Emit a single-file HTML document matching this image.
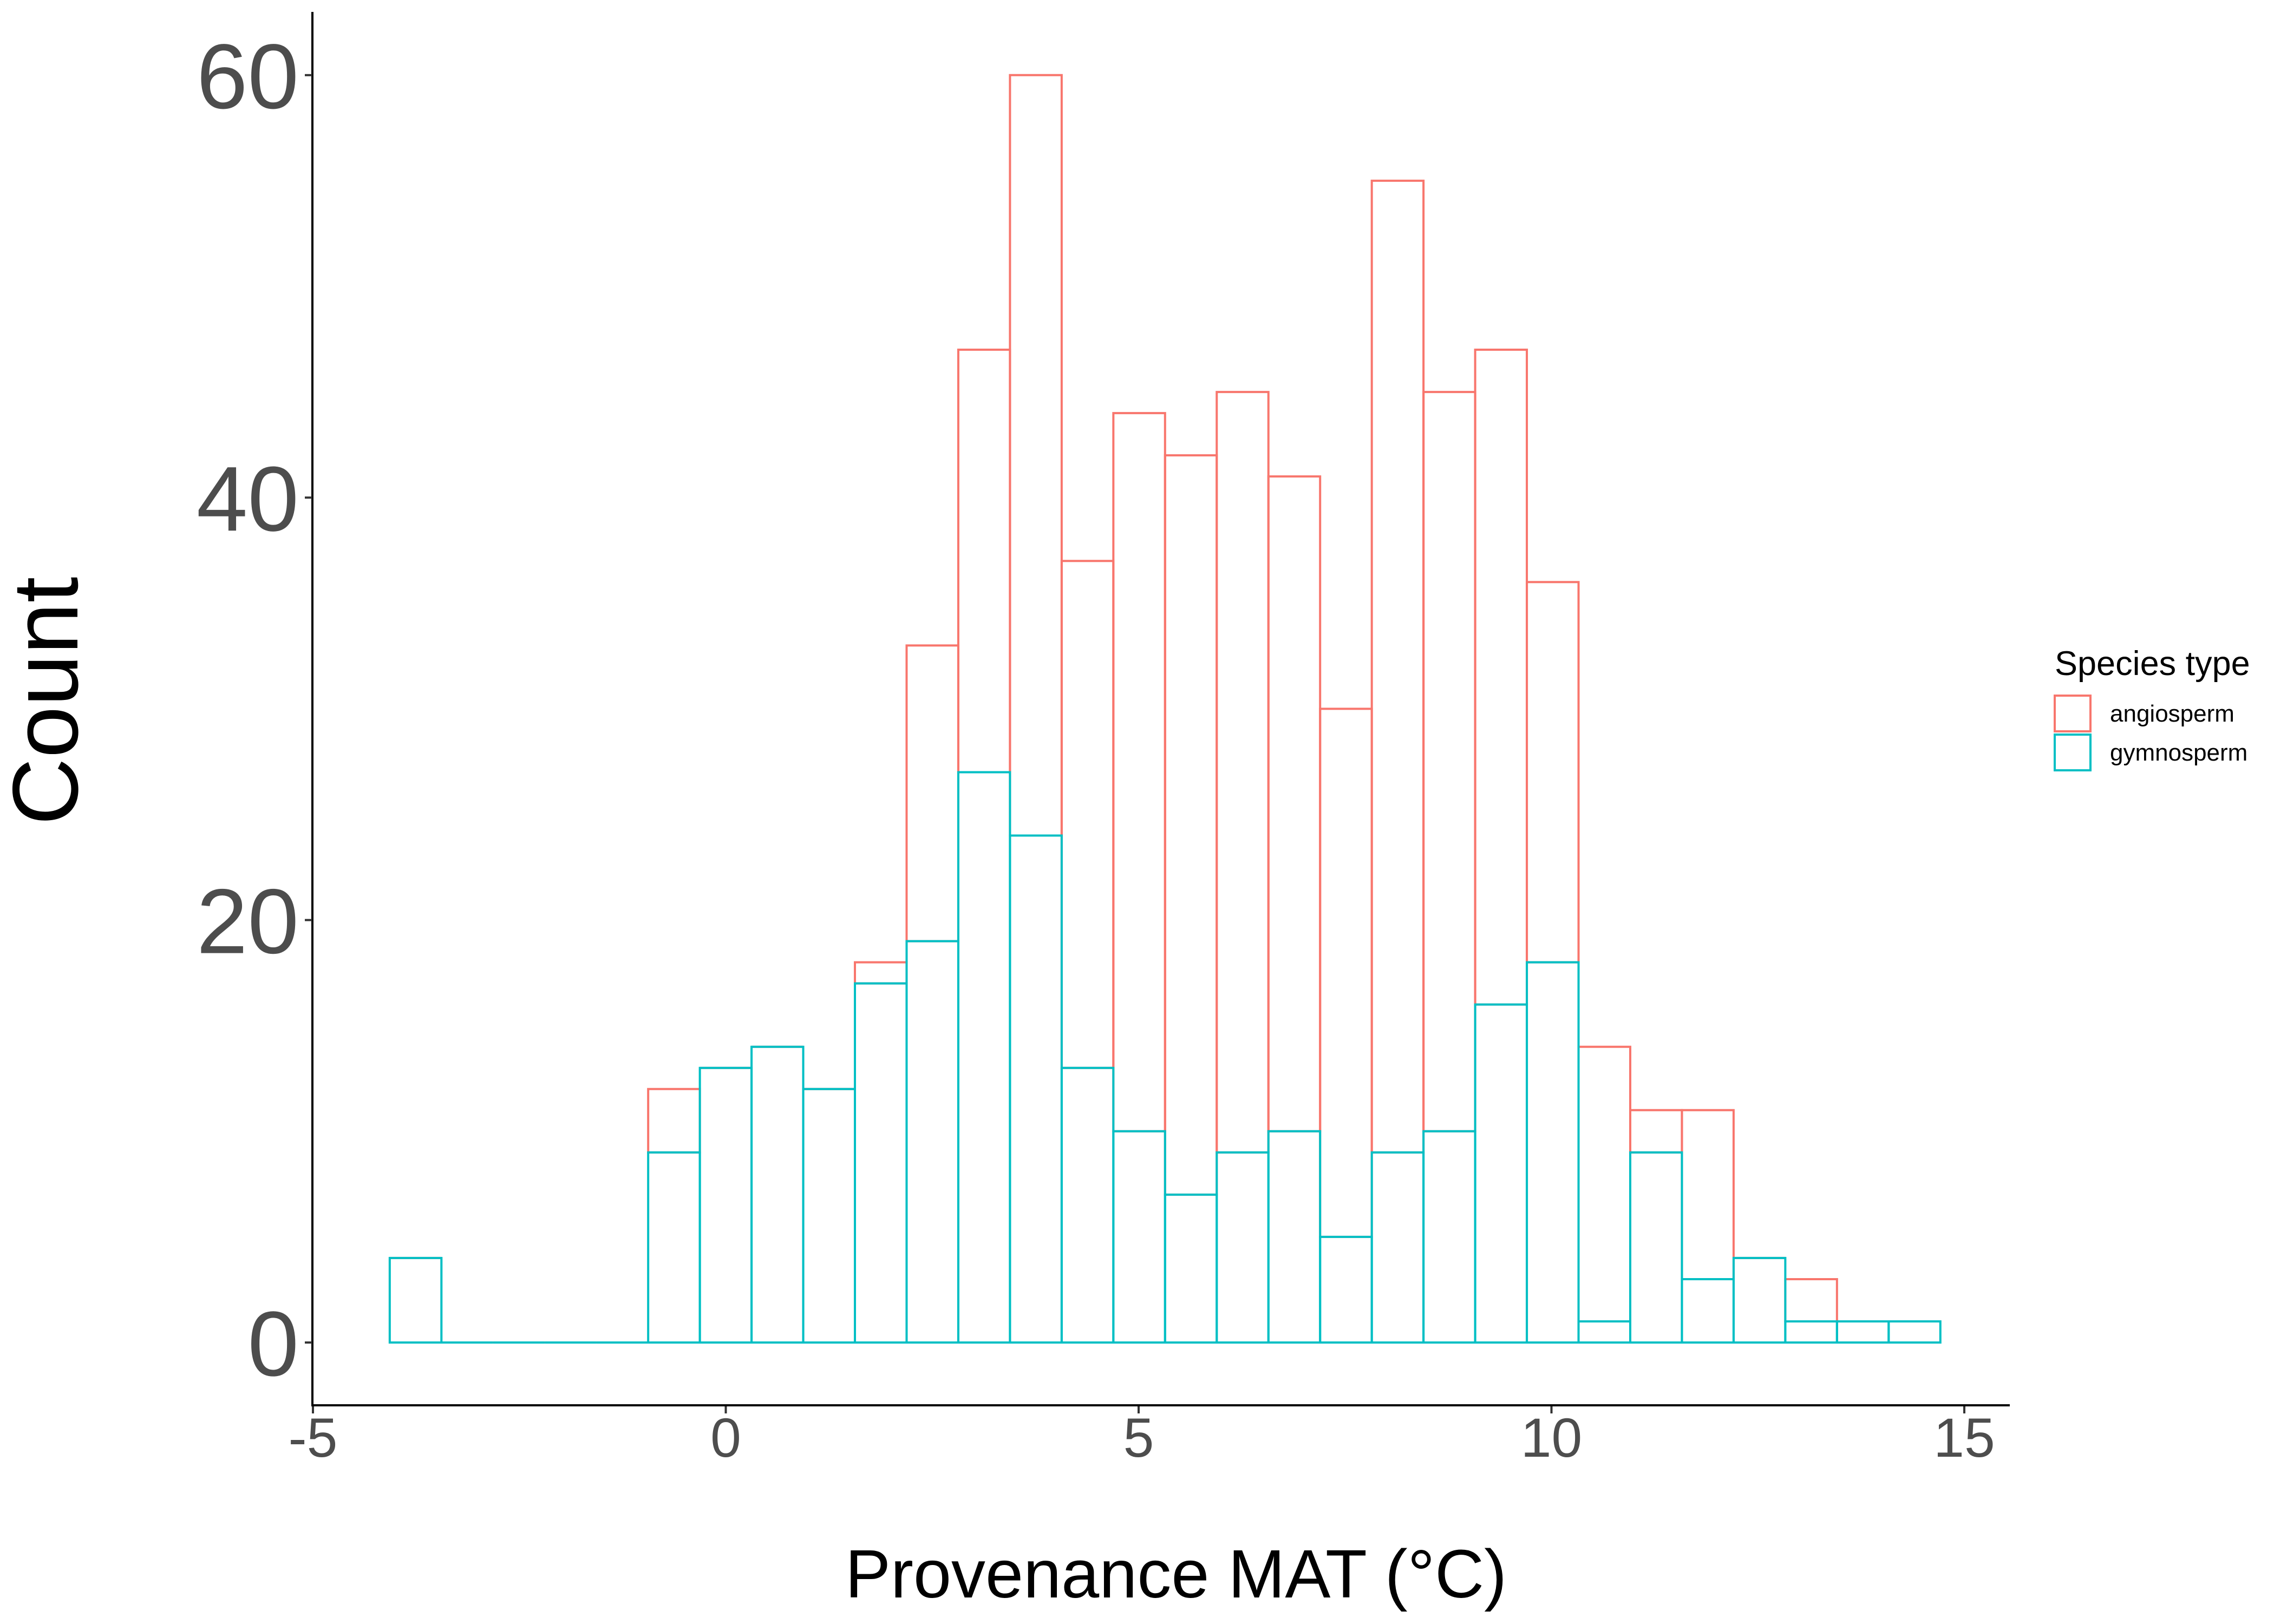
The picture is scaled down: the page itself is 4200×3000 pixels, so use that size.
<!DOCTYPE html>
<html><head><meta charset="utf-8"><style>
html,body{margin:0;padding:0;background:#fff}
svg{display:block}
text{font-family:"Liberation Sans",Arial,sans-serif}
</style></head><body>
<svg id="chart" width="4200" height="3000" viewBox="0 0 4200 3000" xmlns="http://www.w3.org/2000/svg">
<rect x="0" y="0" width="4200" height="3000" fill="#fff"/>
<g id="bars"></g>
<g id="axes"></g>
<text x="2172" y="2951" font-size="126" text-anchor="middle" fill="#000">Provenance MAT (°C)</text>
<text transform="translate(143,1295) rotate(-90)" font-size="172" text-anchor="middle" fill="#000">Count</text>
<g>
<text x="3795" y="1247" font-size="63" fill="#000">Species type</text>
<rect x="3795" y="1285" width="66" height="66" fill="none" stroke="#F8766D" stroke-width="4"/>
<text x="3897" y="1333" font-size="44" fill="#000">angiosperm</text>
<rect x="3795" y="1357" width="66" height="66" fill="none" stroke="#00BFC4" stroke-width="4"/>
<text x="3897" y="1405" font-size="44" fill="#000">gymnosperm</text>
</g>
</svg>
<script>
const binStart = -4.07;
const binWidth = 0.626;
const totalCounts = [4,0,0,0,0,12,13,14,12,18,33,47,60,37,44,42,45,41,30,55,45,47,36,14,11,11,4,3,1,1];
const gymnoCounts = [4,0,0,0,0,9,13,14,12,17,19,27,24,13,10,7,9,10,5,9,10,16,18,1,9,3,4,1,1,1];
const xTicks = [-5,0,5,10,15];
const xTickLabels = ["-5","0","5","10","15"];
const yTicks = [0,20,40,60];
const yTickLabels = ["0","20","40","60"];

const NS = "http://www.w3.org/2000/svg";
function xs(v){ return 578 + (v + 5) * 152.5; }
function ys(v){ return 2480 - v * 39.02; }
function mk(tag, attrs, parent){
  const e = document.createElementNS(NS, tag);
  for (const k in attrs) e.setAttribute(k, attrs[k]);
  parent.appendChild(e);
  return e;
}
function rectPath(x0, x1, yTop, yBot){
  return 'M' + x0 + ' ' + yBot + ' L' + x0 + ' ' + yTop + ' L' + x1 + ' ' + yTop + ' L' + x1 + ' ' + yBot + ' Z';
}
const bars = document.getElementById('bars');
const axes = document.getElementById('axes');
totalCounts.forEach((t, i) => {
  const g = gymnoCounts[i];
  const x0 = xs(binStart + i * binWidth), x1 = xs(binStart + (i + 1) * binWidth);
  const r = mk('path', {d: rectPath(x0, x1, ys(t), ys(g)), fill: 'none', stroke: '#F8766D', 'stroke-width': 4}, bars);
  
  
});
gymnoCounts.forEach((g, i) => {
  const x0 = xs(binStart + i * binWidth), x1 = xs(binStart + (i + 1) * binWidth);
  const r = mk('path', {d: rectPath(x0, x1, ys(g), ys(0)), fill: 'none', stroke: '#00BFC4', 'stroke-width': 4}, bars);
  
  
});
const yl = mk('line', {x1: 577, y1: 22, x2: 577, y2: 2598, stroke: '#000', 'stroke-width': 4}, axes);


const xl = mk('line', {x1: 575, y1: 2596, x2: 3712, y2: 2596, stroke: '#000', 'stroke-width': 4}, axes);


xTicks.forEach((v, i) => {
  const t = mk('line', {x1: xs(v), y1: 2598, x2: xs(v), y2: 2611, stroke: '#333', 'stroke-width': 4}, axes);
  
  
  const l = mk('text', {x: xs(v), y: 2691, 'font-size': 102, 'text-anchor': 'middle', fill: '#4d4d4d'}, axes);
  l.textContent = xTickLabels[i];
  
  
});
yTicks.forEach((v, i) => {
  const t = mk('line', {x1: 563, y1: ys(v), x2: 576, y2: ys(v), stroke: '#333', 'stroke-width': 4}, axes);
  
  
  const l = mk('text', {x: 552, y: ys(v) + 61, 'font-size': 170, 'text-anchor': 'end', fill: '#4d4d4d'}, axes);
  l.textContent = yTickLabels[i];
  
  
});
</script>
</body></html>
